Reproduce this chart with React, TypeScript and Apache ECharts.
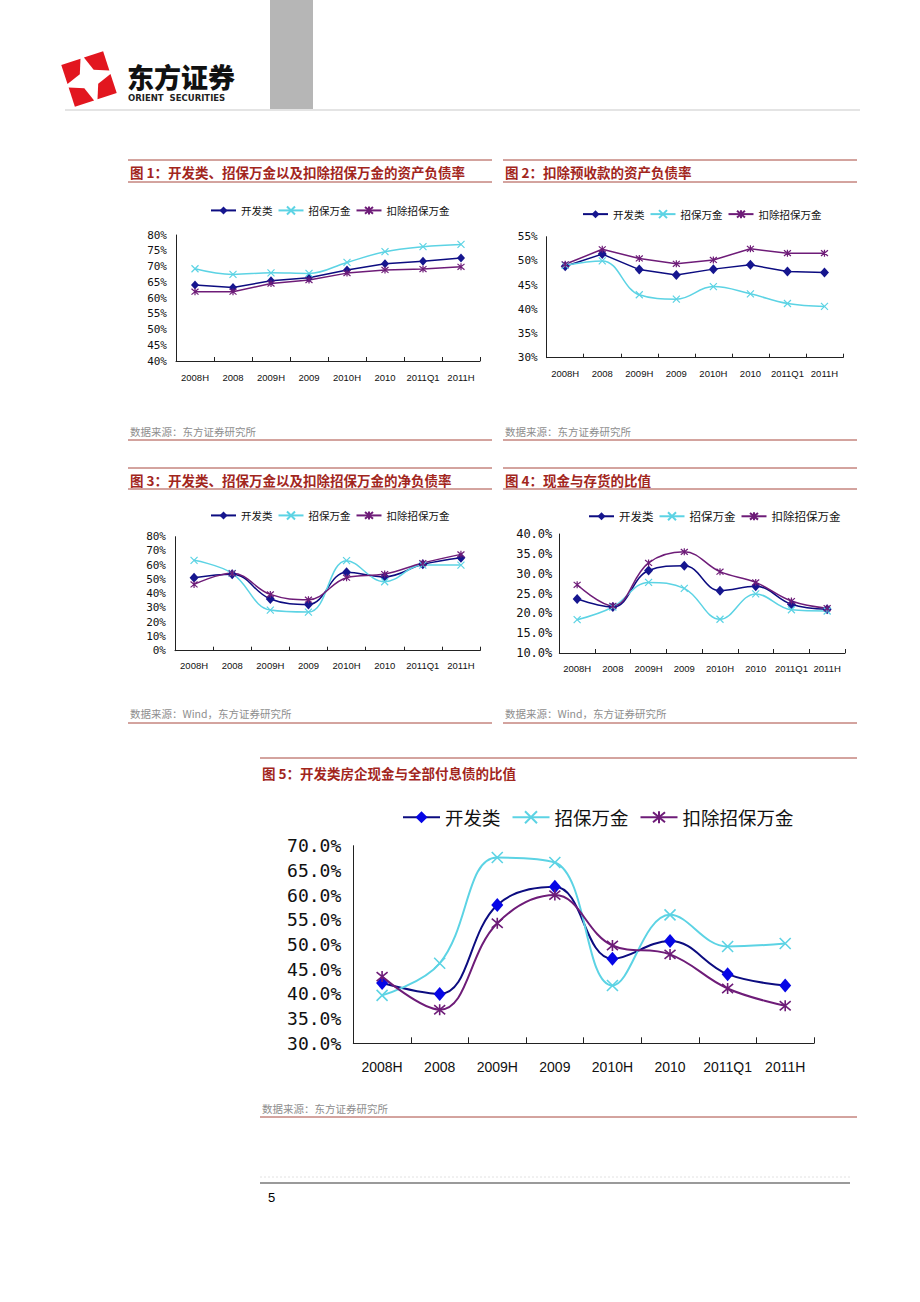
import React, { useEffect, useRef } from 'react';
import * as echarts from 'echarts';

// ---------- data ----------
const categories = ['2008H', '2008', '2009H', '2009', '2010H', '2010', '2011Q1', '2011H'];
const seriesNames = ['开发类', '招保万金', '扣除招保万金'];

// 图1 资产负债率
const fig1Dev = [64.1, 63.3, 65.5, 66.4, 68.9, 70.9, 71.7, 72.7];
const fig1Zbwj = [69.3, 67.5, 68.0, 67.8, 71.3, 74.7, 76.3, 77.0];
const fig1Ex = [62.0, 62.0, 64.6, 65.7, 67.9, 68.9, 69.2, 69.9];

// 图2 扣除预收款的资产负债率
const fig2Dev = [48.9, 51.4, 48.2, 47.1, 48.3, 49.2, 47.8, 47.6];
const fig2Zbwj = [49.1, 50.0, 43.0, 42.1, 44.7, 43.2, 41.2, 40.6];
const fig2Ex = [49.3, 52.4, 50.5, 49.4, 50.2, 52.5, 51.6, 51.6];

// 图3 净负债率
const fig3Dev = [51.2, 53.6, 36.3, 32.5, 55.0, 51.9, 60.6, 65.3];
const fig3Zbwj = [63.4, 54.3, 28.5, 27.1, 63.2, 48.4, 60.1, 60.1];
const fig3Ex = [46.5, 54.3, 39.5, 35.8, 51.2, 53.8, 61.5, 67.6];

// 图4 现金与存货的比值
const fig4Dev = [23.6, 21.6, 30.8, 32.0, 25.7, 26.8, 22.3, 21.0];
const fig4Zbwj = [18.4, 21.6, 27.8, 26.3, 18.5, 24.9, 20.9, 20.6];
const fig4Ex = [27.2, 21.9, 32.7, 35.5, 30.5, 27.8, 23.1, 21.3];

// 图5 现金与全部付息债的比值
const fig5Dev = [42.2, 40.0, 58.0, 61.7, 47.1, 50.7, 44.0, 41.7];
const fig5Zbwj = [39.7, 46.2, 67.6, 66.6, 41.7, 56.0, 49.6, 50.2];
const fig5Ex = [43.5, 36.8, 54.3, 60.0, 49.8, 48.0, 41.1, 37.6];

// y axis ticks: [min, max, interval, decimals]
const fig1Ticks = [40, 80, 5, 0];
const fig2Ticks = [30, 55, 5, 0];
const fig3Ticks = [0, 80, 10, 0];
const fig4Ticks = [10, 40, 5, 1];
const fig5Ticks = [30, 70, 5, 1];

const titles = [
  '图 1：开发类、招保万金以及扣除招保万金的资产负债率',
  '图 2：扣除预收款的资产负债率',
  '图 3：开发类、招保万金以及扣除招保万金的净负债率',
  '图 4：现金与存货的比值',
  '图 5：开发类房企现金与全部付息债的比值',
];
const sources = [
  '数据来源：东方证券研究所',
  '数据来源：东方证券研究所',
  '数据来源：Wind，东方证券研究所',
  '数据来源：Wind，东方证券研究所',
  '数据来源：东方证券研究所',
];

const allData = [
  [fig1Dev, fig1Zbwj, fig1Ex],
  [fig2Dev, fig2Zbwj, fig2Ex],
  [fig3Dev, fig3Zbwj, fig3Ex],
  [fig4Dev, fig4Zbwj, fig4Ex],
  [fig5Dev, fig5Zbwj, fig5Ex],
];
const allTicks = [fig1Ticks, fig2Ticks, fig3Ticks, fig4Ticks, fig5Ticks];

// ---------- layout / style ----------
const NAVY = '#0c0c80';
const CYAN = '#5cd3e4';
const PURPLE = '#6e1c78';
const RULE = '#a8483f';
const TITLE = '#a2261d';
const SRC = '#8e8e8e';

const X_PATH = 'path://M0,0L10,10M10,0L0,10';
const AST_PATH = 'path://M0,0L10,10M10,0L0,10M5,-1L5,11';

const panels = [
  { grid: [176, 235, 304, 126], legend: [210, 212], lf: 10.5, iw: 25, ih: 10, ig: 5, yf: 11, ym: 9, xf: 9.5, xm: 11, tick: 4, lw: 1.5, dia: [8, 9], sym: 7, slw: 1.2, diaColor: '#16168f', smooth: [0, 0.4, 0] },
  { grid: [546.7, 236.7, 296.3, 121], legend: [582, 215.7], lf: 10.5, iw: 25, ih: 10, ig: 5, yf: 11, ym: 9, xf: 9.5, xm: 11, tick: 4, lw: 1.5, dia: [9, 10], sym: 7, slw: 1.2, diaColor: '#16168f', smooth: [0, 0.4, 0] },
  { grid: [175, 536.7, 305, 114], legend: [210, 517], lf: 10.5, iw: 25, ih: 10, ig: 5, yf: 11, ym: 9, xf: 9.5, xm: 10, tick: 4, lw: 1.5, dia: [9, 10], sym: 7, slw: 1.2, diaColor: '#16168f', smooth: [0.4, 0.4, 0.4] },
  { grid: [559.3, 534, 285.7, 119], legend: [588, 518], lf: 11.5, iw: 25, ih: 10, ig: 5, yf: 12, ym: 7, xf: 9.5, xm: 10, tick: 4, lw: 1.5, dia: [9, 10], sym: 7, slw: 1.2, diaColor: '#16168f', smooth: [0.4, 0.4, 0.4] },
  { grid: [353.3, 845.7, 460.7, 197.6], legend: [402, 820], lf: 18.5, iw: 37, ih: 15, ig: 11, yf: 18, ym: 12, xf: 14, xm: 17, tick: 6, lw: 2, dia: [12, 14], sym: 11, slw: 1.6, diaColor: '#0606e6', smooth: [0.4, 0.4, 0.4] },
];

const sections = [
  { x1: 128, x2: 492, top: 160, under: 182, titleY: 172, srcY: 431, bottom: 440 },
  { x1: 503, x2: 857, top: 160, under: 182, titleY: 172, srcY: 431, bottom: 440 },
  { x1: 128, x2: 492, top: 468, under: 489, titleY: 480, srcY: 713, bottom: 723 },
  { x1: 503, x2: 857, top: 468, under: 489, titleY: 480, srcY: 713, bottom: 723 },
  { x1: 260, x2: 857, top: 758, under: null, titleY: 773, srcY: 1108, bottom: 1117 },
];

const CJK = "'Noto Sans CJK SC'";

function hline(x1: number, x2: number, y: number, stroke: string, lineWidth = 1, dash?: number[]) {
  return {
    type: 'line',
    silent: true,
    shape: { x1, y1: y, x2, y2: y },
    style: { stroke, lineWidth, lineDash: dash },
  };
}

function txt(text: string, x: number, y: number, font: string, fill: string, lineHeight?: number) {
  return {
    type: 'text',
    silent: true,
    x,
    y,
    style: { text, font, fill, align: 'left', verticalAlign: 'middle', textAlign: 'left', textVerticalAlign: 'middle', lineHeight },
  };
}

function logoPieces() {
  const cx = 89, cy = 79, th = (-18 * Math.PI) / 180, h = 22, g = 1.8, c = 5.5;
  const rot = (u: number, v: number) => [cx + u * Math.cos(th) - v * Math.sin(th), cy + u * Math.sin(th) + v * Math.cos(th)];
  const quads: any[] = [];
  [[1, -1], [1, 1], [-1, 1], [-1, -1]].forEach(([sx, sy]) => {
    const pts = [
      rot(sx * g, sy * h),
      rot(sx * h, sy * h),
      rot(sx * h, sy * g),
      rot(sx * (g + c), sy * (g + c)),
    ];
    quads.push({ type: 'polygon', silent: true, shape: { points: pts }, style: { fill: '#e2161f' } });
  });
  return quads;
}

function buildGraphic() {
  const els: any[] = [];
  // header
  els.push({ type: 'rect', silent: true, shape: { x: 270, y: 0, width: 43, height: 109 }, style: { fill: '#b6b6b6' } });
  els.push(...logoPieces());
  els.push(txt('东方证券', 127, 76, `900 27px ${CJK}`, '#111', 27));
  els.push(txt('ORIENT  SECURITIES', 128, 98, "bold 8.5px 'DejaVu Sans'", '#222', 9));
  els.push(hline(65, 860, 110, '#c9c9c9', 1));
  // sections
  sections.forEach((s, i) => {
    els.push(hline(s.x1, s.x2, s.top, RULE, 1));
    if (s.under !== null) els.push(hline(s.x1, s.x2, s.under as number, RULE, 1));
    els.push(txt(titles[i], s.x1 + 2, s.titleY, `bold 13.5px ${CJK}`, TITLE));
    els.push(txt(sources[i], s.x1 + 2, s.srcY, `10.5px ${CJK}`, SRC));
    els.push(hline(s.x1, s.x2, s.bottom, RULE, 1));
  });
  // footer
  els.push(hline(260, 850, 1177, '#e2e2e2', 1, [2, 2]));
  els.push(hline(260, 850, 1183, '#9a9a9a', 2));
  els.push(txt('5', 268, 1197, "13px 'Liberation Sans'", '#000'));
  return els;
}

function buildSeries() {
  const out: any[] = [];
  panels.forEach((p, gi) => {
    allData[gi].forEach((data, k) => {
      const color = [NAVY, CYAN, PURPLE][k];
      out.push({
        type: 'line',
        name: `${seriesNames[k]}#${gi + 1}`,
        xAxisIndex: gi,
        yAxisIndex: gi,
        data,
        smooth: p.smooth[k] || false,
        symbol: ['diamond', X_PATH, AST_PATH][k],
        symbolSize: k === 0 ? p.dia : p.sym,
        showAllSymbol: true,
        lineStyle: { color, width: p.lw },
        itemStyle:
          k === 0
            ? { color: p.diaColor, borderWidth: 0 }
            : { color, borderColor: color, borderWidth: p.slw },
        emphasis: { disabled: true },
        silent: true,
      });
    });
  });
  return out;
}

function buildOption() {
  return {
    animation: false,
    backgroundColor: '#ffffff',
    grid: panels.map((p) => ({
      left: p.grid[0],
      top: p.grid[1],
      width: p.grid[2],
      height: p.grid[3],
      containLabel: false,
      outerBoundsMode: 'none',
    })),
    xAxis: panels.map((p, i) => ({
      type: 'category',
      gridIndex: i,
      data: categories,
      boundaryGap: true,
      axisLine: { show: true, lineStyle: { color: '#222', width: 1 } },
      axisTick: { show: true, inside: true, length: p.tick, lineStyle: { color: '#222' } },
      axisLabel: { interval: 0, fontFamily: 'Liberation Sans', fontSize: p.xf, color: '#111', margin: p.xm },
      splitLine: { show: false },
    })),
    yAxis: panels.map((p, i) => {
      const t = allTicks[i];
      return {
        type: 'value',
        gridIndex: i,
        min: t[0],
        max: t[1],
        interval: t[2],
        axisLine: { show: true, lineStyle: { color: '#222', width: 1 } },
        axisTick: { show: false },
        splitLine: { show: false },
        axisLabel: {
          formatter: (v: number) => `${v.toFixed(t[3])}%`,
          fontFamily: 'DejaVu Sans Mono',
          fontSize: p.yf,
          color: '#111',
          margin: p.ym,
        },
      };
    }),
    legend: panels.map((p, i) => ({
      left: p.legend[0],
      top: p.legend[1] - (p.lf * 1.3) / 2,
      orient: 'horizontal',
      padding: 0,
      itemWidth: p.iw,
      itemHeight: p.ih,
      itemGap: p.ig,
      selectedMode: false,
      data: seriesNames.map((n) => `${n}#${i + 1}`),
      formatter: (n: string) => n.split('#')[0],
      textStyle: { fontFamily: CJK, fontSize: p.lf, color: '#111' },
    })),
    series: buildSeries(),
    graphic: { elements: buildGraphic() },
  };
}

export default function App() {
  const ref = useRef<HTMLDivElement>(null);
  useEffect(() => {
    if (!ref.current) return;
    const chart = echarts.init(ref.current, undefined, { renderer: 'svg' });
    chart.setOption(buildOption() as any);
    return () => chart.dispose();
  }, []);
  return (
    <div
      ref={ref}
      style={{ position: 'absolute', left: 0, top: 0, width: 920, height: 1302, background: '#fff' }}
    />
  );
}
